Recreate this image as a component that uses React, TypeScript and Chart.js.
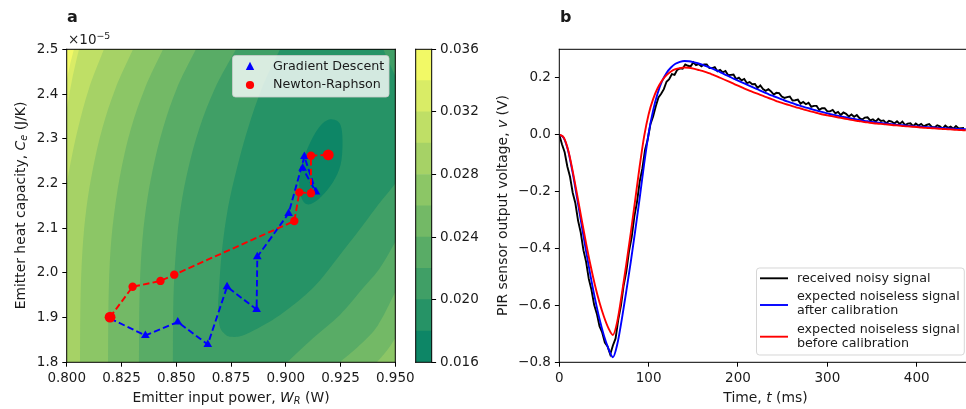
import React, { useEffect, useRef } from 'react';
import { Chart, registerables } from 'chart.js';

Chart.register(...registerables);

const FONT = "'DejaVu Sans', sans-serif";
const TICK_FS = 13.5;
const LABEL_FS = 13.9;
const LEGEND_FS = 12.7;
const TEXT = '#1a1a1a';

// ---------------- Panel a data ----------------
const X_TICKS_A = [0.8, 0.825, 0.85, 0.875, 0.9, 0.925, 0.95];
const Y_TICKS_A = [1.8, 1.9, 2.0, 2.1, 2.2, 2.3, 2.4, 2.5];

const GD_X = [0.8198, 0.8359, 0.8507, 0.8644, 0.8732, 0.8867, 0.887, 0.9013, 0.9085, 0.9138, 0.9077];
const GD_Y = [1.898, 1.86, 1.89, 1.84, 1.969, 1.918, 2.036, 2.133, 2.26, 2.181, 2.234];

const NR_X = [0.8198, 0.8301, 0.8428, 0.8491, 0.9039, 0.9062, 0.9115, 0.9115, 0.9194];
const NR_Y = [1.901, 1.969, 1.982, 1.996, 2.116, 2.18, 2.178, 2.262, 2.264];

const CB_LEVELS = [0.016, 0.018, 0.02, 0.022, 0.024, 0.026, 0.028, 0.03, 0.032, 0.034, 0.036];
const CB_TICKS = [0.016, 0.02, 0.024, 0.028, 0.032, 0.036];
const BAND_COLORS = [
  'rgb(13,134,102)', 'rgb(38,147,102)', 'rgb(64,159,102)', 'rgb(89,172,102)', 'rgb(115,185,102)',
  'rgb(140,198,102)', 'rgb(166,210,102)', 'rgb(191,223,102)', 'rgb(217,236,102)', 'rgb(242,249,102)',
];

// iso-lines (x in W, y in 1e-5 J/K)
const ISO_034 = [[0.8033, 2.5], [0.8015, 2.465], [0.8, 2.431]];
const ISO_032 = [[0.8056, 2.5], [0.8024, 2.431], [0.8, 2.364]];
const ISO_030 = [[0.817, 2.5], [0.8102, 2.413], [0.8052, 2.324], [0.802, 2.252], [0.8, 2.197]];
const ISO_028 = [[0.8303, 2.5], [0.8223, 2.413], [0.8163, 2.324], [0.812, 2.234], [0.809, 2.145], [0.8072, 2.051], [0.8063, 1.939], [0.8061, 1.8]];
const ISO_026 = [[0.844, 2.5], [0.8357, 2.413], [0.8294, 2.324], [0.825, 2.234], [0.822, 2.145], [0.82, 2.051], [0.8191, 1.939], [0.8189, 1.8]];
const ISO_026_SE = [[0.9416, 1.8], [0.946, 1.825], [0.95, 1.854]];
const ISO_024 = [[0.859, 2.5], [0.8503, 2.413], [0.844, 2.324], [0.8394, 2.234], [0.8362, 2.145], [0.8342, 2.051], [0.8332, 1.939], [0.833, 1.8]];
const ISO_024_SE = [[0.9247, 1.8], [0.9339, 1.839], [0.9421, 1.883], [0.95, 1.957]];
const ISO_022 = [[0.8773, 2.5], [0.8677, 2.413], [0.8606, 2.324], [0.8555, 2.234], [0.852, 2.145], [0.8499, 2.051], [0.8487, 1.939], [0.8485, 1.8]];
const ISO_022_SE = [[0.9006, 1.8], [0.9124, 1.854], [0.9247, 1.906], [0.9353, 1.966], [0.943, 2.011], [0.95, 2.069]];
const ISO_020 = [[0.8974, 2.5], [0.8891, 2.413], [0.8828, 2.324], [0.8777, 2.234], [0.8736, 2.145], [0.8709, 2.051], [0.8695, 1.962], [0.8691, 1.917], [0.8697, 1.883], [0.8716, 1.866], [0.875, 1.857], [0.8823, 1.864], [0.8974, 1.906], [0.9124, 1.966], [0.9247, 2.04], [0.9353, 2.107], [0.9421, 2.152], [0.9476, 2.185], [0.95, 2.2]];
const ISO_020_NE = [[0.95, 2.44], [0.9445, 2.5]];
const ISO_018 = [[0.9197, 2.343], [0.9234, 2.34], [0.9254, 2.324], [0.9259, 2.286], [0.925, 2.241], [0.9216, 2.203], [0.9165, 2.172], [0.9115, 2.154], [0.9083, 2.158], [0.9065, 2.181], [0.9063, 2.212], [0.9079, 2.252], [0.9115, 2.295], [0.9156, 2.328]];

const BL = [[0.8, 1.8]];
const BR = [[0.95, 1.8]];
const TR = [[0.95, 2.5]];

// region f < level, painted with band below that level
const REGIONS = [
  { band: 8, segs: [ISO_034, BL, BR, TR] },
  { band: 7, segs: [ISO_032, BL, BR, TR] },
  { band: 6, segs: [ISO_030, BL, BR, TR] },
  { band: 5, segs: [ISO_028, BR, TR] },
  { band: 4, segs: [ISO_026, ISO_026_SE, TR] },
  { band: 3, segs: [ISO_024, ISO_024_SE, TR] },
  { band: 2, segs: [ISO_022, ISO_022_SE, TR] },
  { band: 1, segs: [ISO_020, ISO_020_NE] },
  { band: 0, segs: [ISO_018], closed: true },
];

// ---------------- Panel b data ----------------
const X_TICKS_B = [0, 100, 200, 300, 400];
const Y_TICKS_B = [-0.8, -0.6, -0.4, -0.2, 0, 0.2];
const FIT_STEP_MS = 5;
const NOISY_STEP_MS = 3;

const BLUE_V = [
  0.0, -0.012, -0.058, -0.135, -0.225, -0.318, -0.41, -0.497, -0.577, -0.648, -0.707, -0.752, -0.782,
  -0.735, -0.648, -0.55, -0.447, -0.337, -0.222, -0.102, 0.005,
  0.085, 0.145, 0.188, 0.217, 0.236, 0.249, 0.256, 0.259, 0.258, 0.255,
  0.251, 0.246, 0.24, 0.234, 0.227, 0.22, 0.212, 0.205, 0.197, 0.19,
  0.183, 0.176, 0.169, 0.162, 0.155, 0.148, 0.141, 0.135, 0.129, 0.123,
  0.117, 0.112, 0.106, 0.101, 0.096, 0.092, 0.087, 0.083, 0.079, 0.075,
  0.071, 0.068, 0.064, 0.061, 0.058, 0.055, 0.052, 0.049, 0.047, 0.045,
  0.043, 0.041, 0.039, 0.038, 0.036, 0.034, 0.033, 0.031, 0.03, 0.029,
  0.028, 0.027, 0.026, 0.025, 0.024, 0.023, 0.022, 0.021, 0.02, 0.02, 0.019,
];

const RED_V = [
  0.0, -0.01, -0.055, -0.128, -0.212, -0.298, -0.382, -0.46, -0.53, -0.59, -0.64, -0.68, -0.704,
  -0.655, -0.56, -0.455, -0.345, -0.228, -0.11, -0.005, 0.072,
  0.125, 0.163, 0.19, 0.209, 0.222, 0.23, 0.234, 0.236, 0.235, 0.232,
  0.228, 0.224, 0.219, 0.213, 0.207, 0.2, 0.193, 0.186, 0.179, 0.172,
  0.165, 0.158, 0.152, 0.146, 0.14, 0.134, 0.128, 0.122, 0.116, 0.111,
  0.106, 0.101, 0.096, 0.092, 0.087, 0.083, 0.079, 0.075, 0.071, 0.068,
  0.065, 0.062, 0.059, 0.056, 0.053, 0.05, 0.048, 0.045, 0.043, 0.041,
  0.039, 0.038, 0.036, 0.035, 0.033, 0.032, 0.03, 0.029, 0.028, 0.027,
  0.025, 0.024, 0.023, 0.022, 0.021, 0.02, 0.019, 0.018, 0.017, 0.016, 0.015,
];

const BLACK_V = [
  0.0, -0.034, -0.062, -0.112, -0.148, -0.204, -0.241, -0.302, -0.344, -0.406,
  -0.447, -0.507, -0.545, -0.598, -0.629, -0.673, -0.695, -0.731, -0.744, -0.772,
  -0.741, -0.716, -0.65, -0.601, -0.53, -0.481, -0.41, -0.361, -0.287, -0.236,
  -0.165, -0.118, -0.053, -0.016,
  0.037, 0.064, 0.1, 0.131, 0.144, 0.16, 0.186, 0.195, 0.213, 0.21,
  0.228, 0.233, 0.232, 0.247, 0.242, 0.24, 0.254, 0.244, 0.248, 0.24,
  0.247, 0.247, 0.234, 0.234, 0.237, 0.223, 0.228, 0.219, 0.224, 0.209,
  0.21, 0.211, 0.195, 0.2, 0.191, 0.196, 0.181, 0.185, 0.177, 0.178,
  0.164, 0.173, 0.16, 0.154, 0.16, 0.152, 0.141, 0.147, 0.146, 0.134,
  0.129, 0.132, 0.134, 0.12, 0.121, 0.123, 0.109, 0.115, 0.107, 0.112,
  0.098, 0.101, 0.101, 0.087, 0.093, 0.093, 0.082, 0.082, 0.087, 0.075,
  0.08, 0.069, 0.078, 0.073, 0.064, 0.071, 0.063, 0.069, 0.058, 0.053,
  0.06, 0.061, 0.05, 0.054, 0.046, 0.056, 0.048, 0.05, 0.04, 0.049,
  0.046, 0.039, 0.047, 0.038, 0.046, 0.034, 0.039, 0.04, 0.03, 0.039,
  0.032, 0.038, 0.029, 0.034, 0.037, 0.027, 0.025, 0.033, 0.029, 0.021,
  0.032, 0.024, 0.028, 0.021, 0.03, 0.022, 0.023, 0.024,
];

// ---------------- helpers ----------------
type Part = { t: string; italic?: boolean; bold?: boolean; size?: number; dy?: number };

function drawRich(ctx: CanvasRenderingContext2D, parts: Part[], x: number, y: number, size: number, align: 'left' | 'center', rotate = false) {
  ctx.save();
  ctx.translate(x, y);
  if (rotate) ctx.rotate(-Math.PI / 2);
  const fontOf = (p: Part) => `${p.italic ? 'italic ' : ''}${p.bold ? 'bold ' : ''}${p.size ?? size}px ${FONT}`;
  let total = 0;
  parts.forEach((p) => { ctx.font = fontOf(p); total += ctx.measureText(p.t).width; });
  let cx = align === 'center' ? -total / 2 : 0;
  ctx.textAlign = 'left';
  ctx.textBaseline = 'alphabetic';
  ctx.fillStyle = TEXT;
  parts.forEach((p) => {
    ctx.font = fontOf(p);
    ctx.fillText(p.t, cx, p.dy ?? 0);
    cx += ctx.measureText(p.t).width;
  });
  ctx.restore();
}

function tracePath(ctx: CanvasRenderingContext2D, pts: number[][], closed: boolean, first: boolean) {
  const n = pts.length;
  if (first) ctx.moveTo(pts[0][0], pts[0][1]); else ctx.lineTo(pts[0][0], pts[0][1]);
  const get = (i: number) => closed ? pts[(i + n) % n] : pts[Math.max(0, Math.min(n - 1, i))];
  const segs = closed ? n : n - 1;
  for (let i = 0; i < segs; i++) {
    const p0 = get(i - 1), p1 = get(i), p2 = get(i + 1), p3 = get(i + 2);
    ctx.bezierCurveTo(
      p1[0] + (p2[0] - p0[0]) / 6, p1[1] + (p2[1] - p0[1]) / 6,
      p2[0] - (p3[0] - p1[0]) / 6, p2[1] - (p3[1] - p1[1]) / 6,
      p2[0], p2[1]);
  }
}

const contourPlugin = {
  id: 'contour',
  beforeDatasetsDraw(chart: any) {
    const { ctx, chartArea: a, scales } = chart;
    const xs = scales.x, ys = scales.y;
    ctx.save();
    ctx.beginPath();
    ctx.rect(a.left, a.top, a.right - a.left, a.bottom - a.top);
    ctx.clip();
    ctx.fillStyle = BAND_COLORS[9];
    ctx.fillRect(a.left, a.top, a.right - a.left, a.bottom - a.top);
    REGIONS.forEach((r) => {
      ctx.beginPath();
      r.segs.forEach((seg, k) => {
        const pts = seg.map(([vx, vy]) => [xs.getPixelForValue(vx), ys.getPixelForValue(vy)]);
        tracePath(ctx, pts, !!r.closed, k === 0);
      });
      ctx.closePath();
      ctx.fillStyle = BAND_COLORS[r.band];
      ctx.fill();
    });
    ctx.restore();
  },
};

const framePlugin = (sides: string) => ({
  id: 'frame',
  afterDatasetsDraw(chart: any) {
    const { ctx, chartArea: a } = chart;
    ctx.save();
    ctx.strokeStyle = '#000';
    ctx.lineWidth = 1;
    ctx.lineCap = 'square';
    ctx.beginPath();
    if (sides.includes('l')) { ctx.moveTo(a.left, a.bottom); ctx.lineTo(a.left, a.top); }
    if (sides.includes('t')) { ctx.moveTo(a.left, a.top); ctx.lineTo(a.right, a.top); }
    if (sides.includes('r')) { ctx.moveTo(a.right, a.top); ctx.lineTo(a.right, a.bottom); }
    if (sides.includes('b')) { ctx.moveTo(a.left, a.bottom); ctx.lineTo(a.right, a.bottom); }
    ctx.stroke();
    ctx.restore();
  },
});

const tickFont = { family: FONT, size: TICK_FS };
const gridOpts = { display: true, drawOnChartArea: false, drawTicks: true, tickLength: 4.4, color: '#000', lineWidth: 1 };

function axis(min: number, max: number, ticks: number[], fmt: (v: number) => string, fit: (s: any) => void, extra: any = {}) {
  return {
    type: 'linear',
    min, max,
    afterBuildTicks: (s: any) => { s.ticks = ticks.map((v) => ({ value: v })); },
    afterFit: fit,
    ticks: { callback: (v: any) => fmt(Number(v)), font: tickFont, color: TEXT, padding: 4, maxRotation: 0, autoSkip: false },
    grid: gridOpts,
    border: { display: false },
    ...extra,
  };
}

function makeA(canvas: HTMLCanvasElement) {
  const textPlugin = {
    id: 'textA',
    afterDraw(chart: any) {
      const ctx = chart.ctx as CanvasRenderingContext2D;
      drawRich(ctx, [{ t: 'a', bold: true }], 67, 21.7, 16, 'left');
      drawRich(ctx, [{ t: '\u00d710' }, { t: '\u22125', size: 9.4, dy: -5.6 }], 68, 44.3, TICK_FS, 'left');
      drawRich(ctx, [{ t: 'Emitter input power, ' }, { t: 'W', italic: true }, { t: 'R', italic: true, size: 9.7, dy: 2.6 }, { t: ' (W)' }], 231, 401.5, LABEL_FS, 'center');
      drawRich(ctx, [{ t: 'Emitter heat capacity, ' }, { t: 'C', italic: true }, { t: 'e', italic: true, size: 9.7, dy: 2.6 }, { t: ' (J/K)' }], 24.5, 205.5, LABEL_FS, 'center', true);
      // legend
      ctx.save();
      const bx = 232.5, by = 55.5, bw = 156.5, bh = 41.5, rr = 3;
      ctx.beginPath();
      ctx.moveTo(bx + rr, by);
      ctx.arcTo(bx + bw, by, bx + bw, by + bh, rr);
      ctx.arcTo(bx + bw, by + bh, bx, by + bh, rr);
      ctx.arcTo(bx, by + bh, bx, by, rr);
      ctx.arcTo(bx, by, bx + bw, by, rr);
      ctx.closePath();
      ctx.fillStyle = 'rgba(255,255,255,0.8)';
      ctx.fill();
      ctx.strokeStyle = 'rgba(204,204,204,0.8)';
      ctx.lineWidth = 1;
      ctx.stroke();
      ctx.fillStyle = '#0000ff';
      ctx.beginPath();
      ctx.moveTo(250, 61.8);
      ctx.lineTo(254.2, 70);
      ctx.lineTo(245.8, 70);
      ctx.closePath();
      ctx.fill();
      ctx.fillStyle = '#ff0000';
      ctx.beginPath();
      ctx.arc(250, 85, 4.1, 0, Math.PI * 2);
      ctx.fill();
      ctx.restore();
      ctx.save();
      ctx.font = `${LEGEND_FS}px ${FONT}`;
      ctx.fillStyle = TEXT;
      ctx.textBaseline = 'middle';
      ctx.textAlign = 'left';
      ctx.fillText('Gradient Descent', 273, 66.5);
      ctx.fillText('Newton-Raphson', 273, 85);
      ctx.restore();
    },
  };
  return new Chart(canvas, {
    type: 'scatter',
    data: {
      datasets: [
        {
          label: 'Newton-Raphson',
          data: NR_X.map((x, i) => ({ x, y: NR_Y[i] })),
          showLine: true,
          borderColor: '#ff0000',
          borderWidth: 1.9,
          borderDash: [6.5, 3.2],
          pointStyle: 'circle',
          pointRadius: (c: any) => (c.dataIndex === 0 || c.dataIndex === NR_X.length - 1 ? 5.4 : 4.2),
          pointBackgroundColor: '#ff0000',
          pointBorderWidth: 0,
          order: 1,
        },
        {
          label: 'Gradient Descent',
          data: GD_X.map((x, i) => ({ x, y: GD_Y[i] })),
          showLine: true,
          borderColor: '#0000ff',
          borderWidth: 1.9,
          borderDash: [6.5, 3.2],
          pointStyle: 'triangle',
          pointRadius: 5,
          pointBackgroundColor: '#0000ff',
          pointBorderWidth: 0,
          order: 2,
        },
      ],
    },
    options: {
      animation: false,
      responsive: false,
      devicePixelRatio: 1,
      events: [],
      layout: { padding: { left: 0, right: 24.7, top: 49.3, bottom: 0 } },
      plugins: { legend: { display: false }, tooltip: { enabled: false } },
      scales: {
        x: axis(0.8, 0.95, X_TICKS_A, (v) => v.toFixed(3), (s) => { s.height = 46.7; }),
        y: axis(1.8, 2.5, Y_TICKS_A, (v) => v.toFixed(1), (s) => { s.width = 66.7; }),
      },
    } as any,
    plugins: [contourPlugin, framePlugin('ltrb'), textPlugin],
  });
}

function makeCB(canvas: HTMLCanvasElement) {
  return new Chart(canvas, {
    type: 'bar',
    data: {
      labels: [''],
      datasets: BAND_COLORS.map((c, i) => ({
        data: [[CB_LEVELS[i], CB_LEVELS[i + 1]]],
        backgroundColor: c,
        borderWidth: 0,
        grouped: false,
        barPercentage: 1,
        categoryPercentage: 1,
      })),
    } as any,
    options: {
      animation: false,
      responsive: false,
      devicePixelRatio: 1,
      events: [],
      layout: { padding: { left: 15.7, right: 0, top: 49.3, bottom: 46.7 } },
      plugins: { legend: { display: false }, tooltip: { enabled: false } },
      scales: {
        x: { display: false },
        y: axis(0.016, 0.036, CB_TICKS, (v) => v.toFixed(3), (s) => { s.width = 48.3; }, { position: 'right' }),
      },
    } as any,
    plugins: [framePlugin('ltrb')],
  });
}

function makeB(canvas: HTMLCanvasElement) {
  const textPlugin = {
    id: 'textB',
    afterDraw(chart: any) {
      const ctx = chart.ctx as CanvasRenderingContext2D;
      drawRich(ctx, [{ t: 'b', bold: true }], 80, 21.7, 16, 'left');
      drawRich(ctx, [{ t: 'Time, ' }, { t: 't', italic: true }, { t: ' (ms)' }], 285.5, 401.5, LABEL_FS, 'center');
      drawRich(ctx, [{ t: 'PIR sensor output voltage, ' }, { t: 'v', italic: true }, { t: ' (V)' }], 26.5, 205.5, LABEL_FS, 'center', true);
      ctx.save();
      const bx = 276.5, by = 268, bw = 207.8, bh = 87, rr = 3;
      ctx.beginPath();
      ctx.moveTo(bx + rr, by);
      ctx.arcTo(bx + bw, by, bx + bw, by + bh, rr);
      ctx.arcTo(bx + bw, by + bh, bx, by + bh, rr);
      ctx.arcTo(bx, by + bh, bx, by, rr);
      ctx.arcTo(bx, by, bx + bw, by, rr);
      ctx.closePath();
      ctx.fillStyle = 'rgba(255,255,255,0.8)';
      ctx.fill();
      ctx.strokeStyle = 'rgba(204,204,204,0.8)';
      ctx.lineWidth = 1;
      ctx.stroke();
      const lines: [string, number][] = [['#000000', 278.3], ['#0000ff', 305], ['#ff0000', 336.7]];
      ctx.lineWidth = 1.9;
      lines.forEach(([c, y]) => {
        ctx.strokeStyle = c;
        ctx.beginPath();
        ctx.moveTo(280, y);
        ctx.lineTo(308, y);
        ctx.stroke();
      });
      ctx.font = `${LEGEND_FS}px ${FONT}`;
      ctx.fillStyle = TEXT;
      ctx.textBaseline = 'middle';
      ctx.textAlign = 'left';
      ctx.fillText('received noisy signal', 317, 278.3);
      ctx.fillText('expected noiseless signal', 317, 296.7);
      ctx.fillText('after calibration', 317, 311);
      ctx.fillText('expected noiseless signal', 317, 329.3);
      ctx.fillText('before calibration', 317, 343.3);
      ctx.restore();
    },
  };
  const fit = (arr: number[], step: number) => arr.map((v, i) => ({ x: i * step, y: v }));
  return new Chart(canvas, {
    type: 'scatter',
    data: {
      datasets: [
        {
          label: 'expected noiseless signal before calibration',
          data: fit(RED_V, FIT_STEP_MS),
          showLine: true, borderColor: '#ff0000', borderWidth: 1.9, pointRadius: 0,
          cubicInterpolationMode: 'monotone', order: 1,
        },
        {
          label: 'expected noiseless signal after calibration',
          data: fit(BLUE_V, FIT_STEP_MS),
          showLine: true, borderColor: '#0000ff', borderWidth: 1.9, pointRadius: 0,
          cubicInterpolationMode: 'monotone', order: 2,
        },
        {
          label: 'received noisy signal',
          data: fit(BLACK_V, NOISY_STEP_MS),
          showLine: true, borderColor: '#000000', borderWidth: 1.9, pointRadius: 0,
          tension: 0, order: 3,
        },
      ],
    },
    options: {
      animation: false,
      responsive: false,
      devicePixelRatio: 1,
      events: [],
      layout: { padding: { left: 0, right: 0, top: 49.3, bottom: 0 } },
      plugins: { legend: { display: false }, tooltip: { enabled: false } },
      scales: {
        x: axis(0, 455.2, X_TICKS_B, (v) => v.toFixed(0), (s) => { s.height = 46.7; }),
        y: axis(-0.8, 0.3, Y_TICKS_B, (v) => (v < -1e-9 ? '\u2212' : '') + Math.abs(v).toFixed(1), (s) => { s.width = 79.3; }),
      },
    } as any,
    plugins: [framePlugin('ltb'), textPlugin],
  });
}

export default function App() {
  const aRef = useRef<HTMLCanvasElement>(null);
  const cbRef = useRef<HTMLCanvasElement>(null);
  const bRef = useRef<HTMLCanvasElement>(null);
  useEffect(() => {
    const charts = [makeA(aRef.current!), makeCB(cbRef.current!), makeB(bRef.current!)];
    return () => charts.forEach((c) => c.destroy());
  }, []);
  const cs = (left: number, w: number): React.CSSProperties => ({ position: 'absolute', left, top: 0, width: w, height: 409 });
  return (
    <div style={{ position: 'absolute', left: 0, top: 0, width: 966, height: 409, background: '#fff', overflow: 'hidden' }}>
      <canvas ref={aRef} width={420} height={409} style={cs(0, 420)} />
      <canvas ref={cbRef} width={80} height={409} style={cs(400, 80)} />
      <canvas ref={bRef} width={486} height={409} style={cs(480, 486)} />
    </div>
  );
}
